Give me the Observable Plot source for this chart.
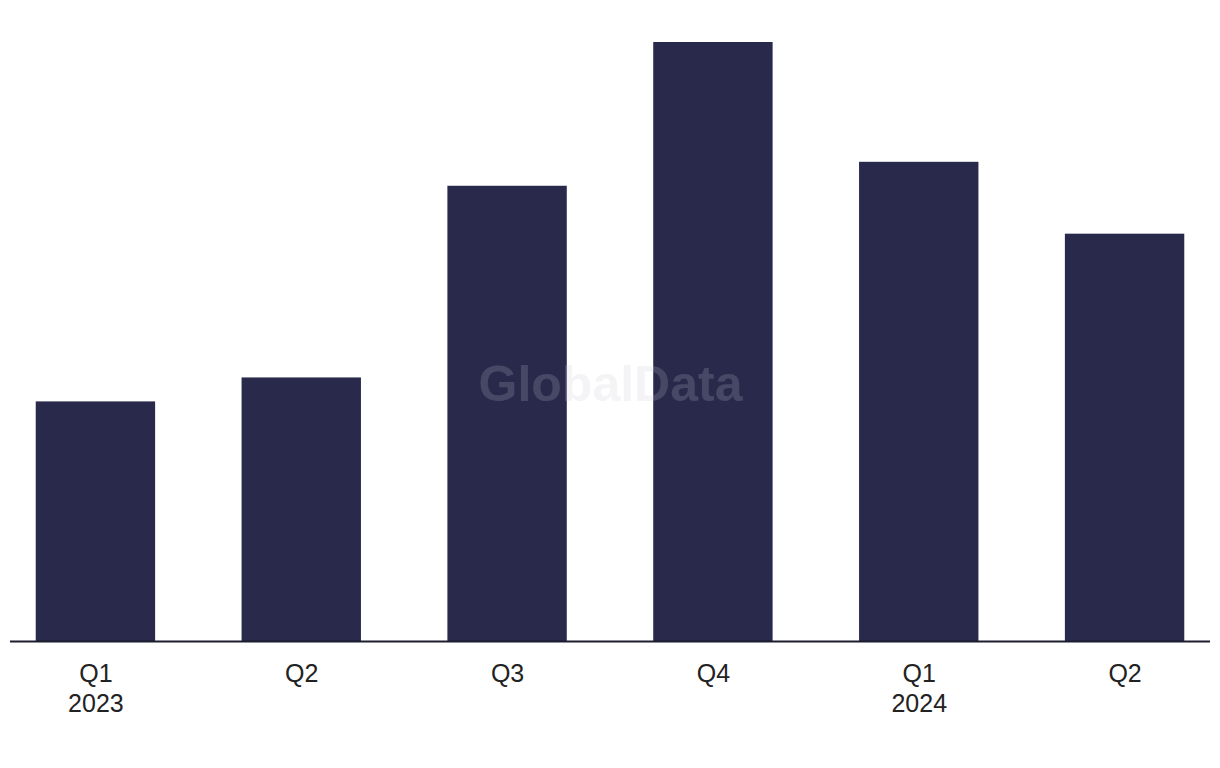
<!DOCTYPE html>
<html>
<head>
<meta charset="utf-8">
<script src="https://cdn.jsdelivr.net/npm/d3@7"></script>
<script src="https://cdn.jsdelivr.net/npm/@observablehq/plot@0.6"></script>
<style>
  html, body { margin: 0; padding: 0; background: #ffffff; }
  #chart svg { display: block; }
</style>
</head>
<body>
<div id="chart"></div>
<script>
const quarters = ["Q1", "Q2", "Q3", "Q4", "Q1", "Q2"];
const years = ["2023", "", "", "", "2024", ""];
const values = [10, 11, 19, 25, 20, 17];

const data = quarters.map((q, i) => ({
  key: i,
  label: years[i] ? q + "\n" + years[i] : q,
  value: values[i]
}));

const chart = Plot.plot({
  width: 1220,
  height: 768,
  marginTop: 42,
  marginBottom: 127,
  marginLeft: 10,
  marginRight: 10,
  style: { fontFamily: "'Liberation Sans', Arial, sans-serif", background: "#ffffff" },
  x: { domain: data.map(d => d.key), paddingInner: 0.42, paddingOuter: 0.125, round: false, axis: null, label: null },
  y: { domain: [0, 25], axis: null, label: null },
  marks: [
    Plot.barY(data, { x: "key", y: "value", fill: "#29294b" }),
    Plot.ruleY([0], { stroke: "#1c1c2e", strokeWidth: 2 }),
    Plot.axisX({
      tickSize: 0,
      tickPadding: 19,
      fontSize: 25,
      lineHeight: 1.2,
      fill: "#222222",
      label: null,
      tickFormat: k => data[k].label
    }),
    Plot.text(["GlobalData"], {
      frameAnchor: "middle",
      dy: 43,
      fontSize: 50,
      fontWeight: "bold",
      fill: "#c8c8d2",
      fillOpacity: 0.2
    })
  ]
});
document.getElementById("chart").appendChild(chart);
</script>
</body>
</html>
